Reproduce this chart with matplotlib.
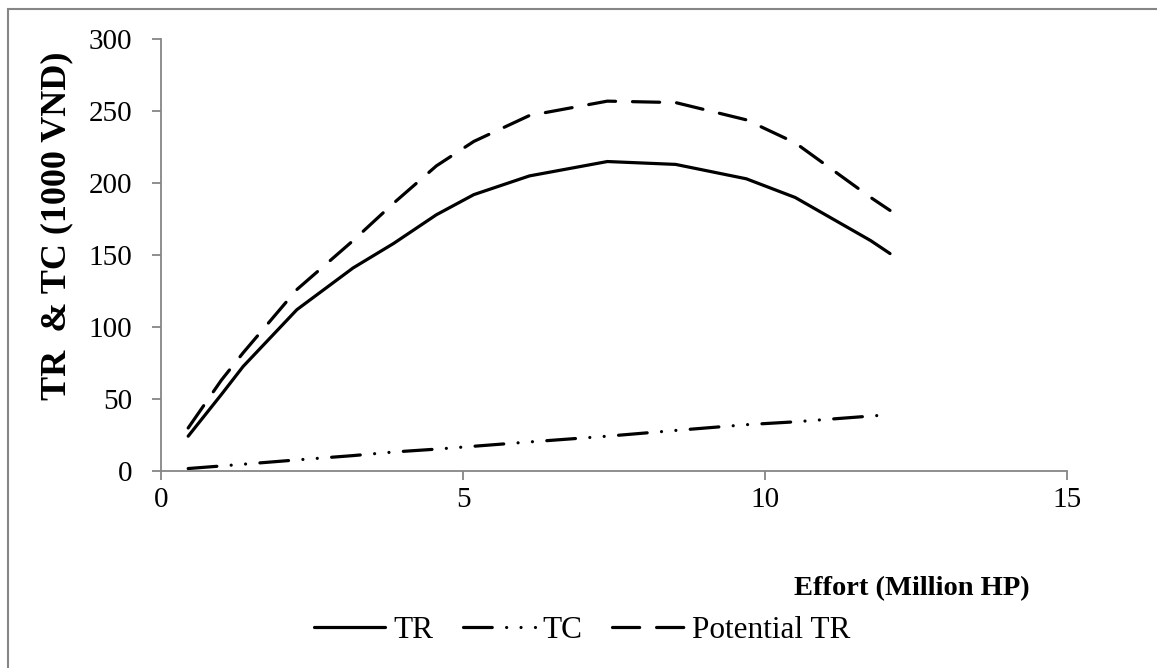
import matplotlib.pyplot as plt
from matplotlib.patches import Rectangle

# effort (million HP) and revenue/cost (1000 VND)
effort = [0.45, 1.0, 1.36, 2.25, 3.18, 3.85, 4.56, 5.18, 6.10, 7.39, 8.52, 9.69, 10.50, 11.75, 12.07]
tr = [24, 53, 72.5, 112, 141, 158, 178, 192, 205, 215, 213, 203, 190, 160, 151]
tc = [1.5, 3.3, 4.5, 7.5, 10.5, 13, 15, 17, 20, 24, 28, 32, 34, 38, 39]
potential_tr = [29.7, 63, 82, 126, 160, 186, 212, 229, 247, 257, 256, 244, 228, 190, 181]

x_ticks = [0, 5, 10, 15]
y_ticks = [0, 50, 100, 150, 200, 250, 300]

plt.rcParams['font.family'] = ['Liberation Serif', 'DejaVu Serif']
axis_gray = '#868686'

fig = plt.figure(figsize=(11.57, 6.68), dpi=100)
ax = fig.add_axes([161 / 1157, 1 - 470.7 / 668, 906 / 1157, 431.4 / 668])

lw = 2.3
ax.plot(effort, tr, color='black', linewidth=lw, linestyle='-', solid_capstyle='round', label='TR')
ax.plot(effort, tc, color='black', linewidth=lw, dash_capstyle='round',
        dashes=(9, 4.5, 0.01, 4.5, 0.01, 4.5), label='TC')
ax.plot(effort, potential_tr, color='black', linewidth=lw, dash_capstyle='round',
        dashes=(8.5, 5.3), label='Potential TR')

ax.set_xlim(0, 15)
ax.set_ylim(0, 300)
ax.set_xticks(x_ticks)
ax.set_yticks(y_ticks)

for side in ['top', 'right']:
    ax.spines[side].set_visible(False)
for side in ['left', 'bottom']:
    ax.spines[side].set_color(axis_gray)
    ax.spines[side].set_linewidth(1.3)

ax.tick_params(axis='both', direction='out', length=6.5, width=1.3, color=axis_gray, labelsize=21)
ax.tick_params(axis='x', pad=5)
ax.tick_params(axis='y', pad=14)

ax.set_xlabel('Effort (Million HP)', fontsize=20.5, fontweight='bold')
ax.xaxis.set_label_coords(0.829, -0.245)
ax.set_ylabel('TR  & TC (1000 VND)', fontsize=26, fontweight='bold')
ax.yaxis.set_label_coords(-0.097, 0.567)

fig.legend(loc='center', bbox_to_anchor=(0.503, 1 - 630 / 668), ncol=3, frameon=False,
           fontsize=22.5, handlelength=2.3, handletextpad=0.25, columnspacing=0.95)

# chart border (only top and left edges fall inside the picture)
fig.patches.append(Rectangle((7.5 / 1157, -0.2), 2, 1.2 - 8.5 / 668, transform=fig.transFigure,
                             fill=False, edgecolor=axis_gray, linewidth=1.5))

fig.savefig('out.png', dpi=100)
